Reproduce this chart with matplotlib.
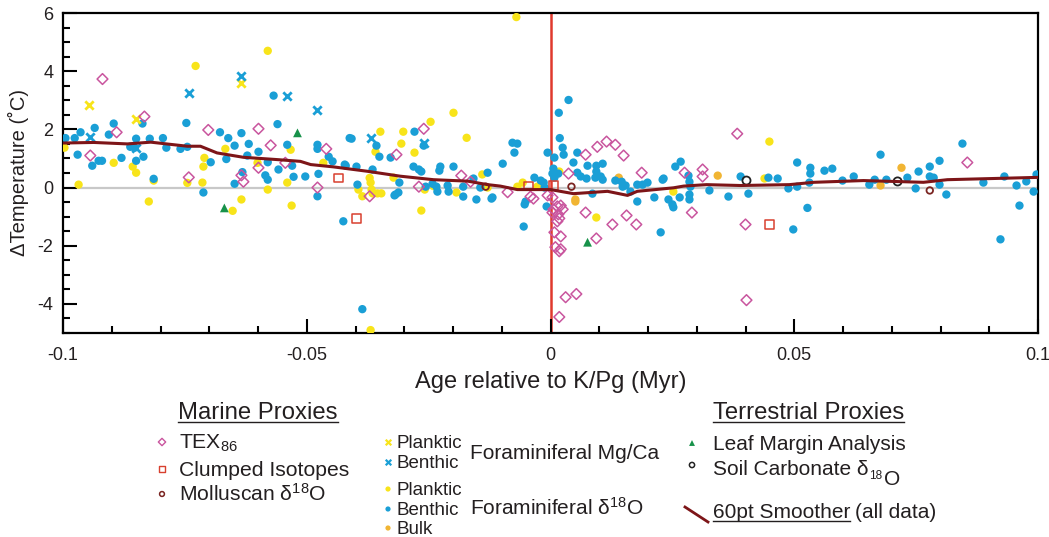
import matplotlib
matplotlib.use("Agg")
import matplotlib.pyplot as plt
from matplotlib.ticker import MultipleLocator, FixedLocator

plt.rcParams['font.family'] = ['Liberation Sans', 'DejaVu Sans']
plt.rcParams['axes.unicode_minus'] = False
plt.rcParams['mathtext.fontset'] = 'custom'
plt.rcParams['mathtext.rm'] = 'Liberation Sans'
plt.rcParams['mathtext.it'] = 'Liberation Sans:italic'

# ---- data (age in Myr relative to K/Pg, delta T in deg C) ----
tex_age = [-0.0919, -0.0944, -0.089, -0.0833, -0.0742, -0.0702, -0.0634, -0.063, -0.0599, -0.0599,
           -0.0574, -0.0544, -0.046, -0.0478, -0.0371, -0.0316, -0.026, -0.027, -0.0183, -0.0164,
           -0.0088, -0.0041, -0.0035, -0.0006, 0.0004, 0.0004, 0.0006, 0.0014, 0.0021, 0.0025,
           0.0016, 0.0018, 0.0014, 0.0008, 0.0021, 0.001, 0.0021, 0.0018, 0.0031, 0.0053,
           0.0018, 0.0037, 0.0072, 0.0096, 0.0115, 0.0133, 0.015, 0.0072, 0.0094, 0.0127,
           0.0156, 0.0176, 0.0187, 0.0275, 0.029, 0.0312, 0.0312, 0.0383, 0.040, 0.0402, 0.0855]
tex_dt = [3.73, 1.10, 1.90, 2.44, 0.35, 1.98, 0.42, 0.20, 2.02, 0.68,
          1.45, 0.85, 1.33, 0.00, -0.30, 1.13, 2.02, 0.03, 0.41, 0.20,
          -0.16, -0.31, -0.38, -0.27, -0.34, -0.86, -0.75, -0.65, -0.62, -0.75,
          -0.92, -1.06, -1.16, -1.54, -1.68, -2.05, -2.12, -2.19, -3.77, -3.66,
          -4.45, 0.48, 1.13, 1.40, 1.58, 1.47, 1.10, -0.86, -1.75, -1.27,
          -0.96, -1.27, 0.51, 0.51, -0.86, 0.62, 0.38, 1.85, -1.27, -3.87, 0.86]

clumped_age = [-0.0435, -0.0398, -0.0045, 0.0006, 0.0449]
clumped_dt = [0.33, -1.06, 0.05, 0.07, -1.27]

mollusc_age = [-0.0133, 0.0043, 0.0778]
mollusc_dt = [0.03, 0.03, -0.10]

mgca_plank_age = [-0.0946, -0.0851, -0.0634]
mgca_plank_dt = [2.84, 2.35, 3.58]

mgca_benth_age = [-0.0944, -0.085, -0.0742, -0.0634, -0.054, -0.0478, -0.0369, -0.026]
mgca_benth_dt = [1.75, 1.37, 3.25, 3.85, 3.13, 2.67, 1.70, 1.54]

plank_age = [-0.0997, -0.0968, -0.0896, -0.0857, -0.085, -0.0814, -0.0824, -0.0745, -0.0728, -0.071,
             -0.0712, -0.0714, -0.0667, -0.0652, -0.0634, -0.0601, -0.058, -0.058, -0.0533, -0.054,
             -0.0531, -0.0466, -0.0394, -0.0386, -0.0371, -0.0369, -0.0367, -0.0365, -0.0355, -0.0347,
             -0.0359, -0.0349, -0.0322, -0.0302, -0.0306, -0.0279, -0.0246, -0.0258, -0.0265, -0.0199,
             -0.0193, -0.0172, -0.014, -0.0129, -0.024, -0.007, -0.0057, -0.0068, -0.0027, 0.0018,
             0.0094, 0.0252, 0.0439, 0.0449, -0.0369]
plank_dt = [1.37, 0.10, 0.85, 0.72, 0.51, 0.24, -0.48, 0.16, 4.18, 1.02,
            0.72, 0.17, 1.33, -0.80, -0.41, 0.85, 4.70, -0.07, 1.30, 0.17,
            -0.62, 0.85, -0.07, -0.30, 0.33, 0.17, -0.07, -0.20, -0.20, -0.20,
            1.23, 1.92, 0.34, 1.92, 1.51, 1.20, 2.26, -0.07, -0.79, 2.57,
            -0.17, 1.71, 0.45, 0.00, 0.05, 5.86, 0.17, 0.03, 0.03, 0.55,
            -1.03, -0.14, 0.31, 1.58, -4.90]

benth_age = [-0.0995, -0.0976, -0.0964, -0.097, -0.094, -0.0935, -0.0927, -0.092, -0.0906, -0.0896,
             -0.088, -0.0837, -0.0862, -0.0853, -0.085, -0.0835, -0.085, -0.0822, -0.0814, -0.0795,
             -0.0788, -0.0759, -0.0747, -0.0745, -0.0697, -0.0712, -0.0678, -0.0661, -0.0665, -0.0648,
             -0.0648, -0.0634, -0.0632, -0.0619, -0.0622, -0.0599, -0.0568, -0.056, -0.0585, -0.058,
             -0.058, -0.0558, -0.054, -0.053, -0.0527, -0.0503, -0.0478, -0.0478, -0.0455, -0.0447,
             -0.0476, -0.042, -0.0412, -0.0478, -0.0425, -0.0422, -0.0408, -0.0398, -0.0396, -0.0365,
             -0.0357, -0.0351, -0.0328, -0.032, -0.031, -0.0281, -0.0279, -0.026, -0.027, -0.0265,
             -0.0256, -0.0242, -0.0234, -0.0232, -0.0228, -0.0226, -0.0211, -0.0209, -0.0199, -0.0179,
             -0.0179, -0.0158, -0.0152, -0.0129, -0.0144, -0.0119, -0.0098, -0.0078, -0.0068, -0.0074,
             -0.0053, -0.0051, -0.0055, -0.0033, -0.002, -0.0014, -0.0012, -0.0006, -0.0008, -0.0386,
             -0.0318, -0.0312, -0.0121,
             0.0037, 0.0017, 0.0019, 0.0025, 0.0027, 0.0008, 0.0055, 0.0047, 0.0076, 0.0094,
             0.0107, 0.0004, 0.0008, 0.0006, 0.0016, 0.0055, 0.0062, 0.0074, 0.0094, 0.0103,
             0.0107, 0.0092, 0.0133, 0.0146, 0.0148, 0.0154, 0.0164, 0.0178, 0.0189, 0.0199,
             0.023, 0.0232, 0.0256, 0.0267, 0.0283, 0.0285, 0.0287, 0.0285, 0.0285, 0.0213,
             0.0242, 0.025, 0.0252, 0.0265, 0.0178, 0.0226, 0.0086, 0.0326, 0.0365, 0.039,
             0.0406, 0.0447, 0.0466, 0.0488,
             0.0506, 0.0506, 0.0533, 0.0533, 0.0531, 0.0562, 0.0578, 0.0599, 0.0622, 0.0654,
             0.0665, 0.0677, 0.0689, 0.0732, 0.0755, 0.0778, 0.0798, 0.0778, 0.0786, 0.0798,
             0.0749, 0.0812, 0.0845, 0.0888, 0.0931, 0.0956, 0.0976, 0.0997, 0.0991, 0.0527,
             0.0498, 0.0962, 0.0923]
benth_dt = [1.70, 1.70, 1.90, 1.13, 0.75, 2.05, 0.92, 0.92, 1.82, 2.20,
            1.02, 2.20, 1.40, 1.37, 1.68, 1.06, 0.92, 1.68, 0.30, 1.70,
            1.37, 1.33, 2.22, 1.40, 0.87, -0.17, 1.90, 1.70, 0.98, 1.44,
            0.13, 1.87, 0.53, 1.50, 1.10, 1.23, 3.16, 2.18, 0.42, 0.27,
            0.87, 0.62, 1.47, 0.75, 0.37, 0.38, 1.47, 1.33, 1.06, 0.90,
            0.47, 0.75, 1.70, -0.30, -1.16, 0.79, 1.68, 0.72, 0.10, 0.62,
            1.44, 1.06, 1.03, -0.27, 0.17, 0.72, 1.92, 1.44, 0.62, 0.55,
            0.03, 0.13, 0.03, -0.14, 0.58, 0.72, 0.07, -0.14, 0.72, 0.03,
            -0.31, 0.31, -0.41, 0.51, 0.00, -0.34, 0.82, 1.54, 1.51, 1.20,
            -0.58, -0.48, -1.34, 0.34, 0.24, 0.17, 0.00, 1.20, -0.65, -4.18,
            -0.24, -0.17, -0.38,
            3.01, 2.57, 1.70, 1.37, 1.13, 1.03, 1.20, 0.86, 0.75, 0.75,
            0.82, 0.48, 0.34, 0.65, 0.48, 0.51, 0.38, 0.31, 0.55, 0.38,
            0.27, 0.34, 0.24, 0.20, 0.03, 0.07, -0.14, 0.10, 0.10, 0.17,
            0.27, 0.31, 0.72, 0.89, 0.41, 0.20, 0.03, -0.24, -0.41, -0.34,
            -0.41, -0.58, -0.68, -0.34, -0.48, -1.54, -0.21, -0.10, -0.31, 0.38,
            -0.21, 0.34, 0.31, -0.03,
            0.86, 0.03, 0.68, 0.48, 0.17, 0.58, 0.65, 0.24, 0.38, 0.10,
            0.27, 1.13, 0.27, 0.34, 0.55, 0.72, 0.92, 0.38, 0.34, 0.10,
            -0.03, -0.24, 1.51, 0.17, 0.38, 0.07, 0.21, 0.45, -0.14, -0.70,
            -1.44, -0.62, -1.78]

bulk_age = [0.0051, 0.0051, 0.014, 0.0343, 0.0677, 0.072]
bulk_dt = [-0.41, -0.48, 0.34, 0.41, 0.07, 0.68]

leaf_age = [-0.0669, -0.0519, 0.0076]
leaf_dt = [-0.70, 1.88, -1.88]

soil_age = [0.0402, 0.0712]
soil_dt = [0.24, 0.21]

smooth_age = [-0.1, -0.0937, -0.0868, -0.082, -0.0745, -0.0718, -0.0684, -0.063, -0.056, -0.0513,
              -0.0492, -0.0445, -0.0376, -0.0308, -0.024, -0.017, -0.0129, -0.0103, -0.0068, 0.0,
              0.0047, 0.0117, 0.0158, 0.0178, 0.0252, 0.0273, 0.032, 0.039, 0.049, 0.054,
              0.0642, 0.0765, 0.0814, 0.1]
smooth_dt = [1.53, 1.55, 1.50, 1.56, 1.42, 1.42, 1.19, 1.04, 0.96, 0.90,
             0.79, 0.71, 0.56, 0.39, 0.27, 0.22, 0.10, 0.05, -0.07, -0.07,
             -0.21, -0.13, -0.27, -0.13, -0.01, 0.05, 0.10, 0.07, 0.10, 0.18,
             0.24, 0.18, 0.27, 0.35]

x_ticks = [-0.1, -0.05, 0, 0.05, 0.1]
x_labels = ['-0.1', '-0.05', '0', '0.05', '0.1']
y_ticks = [-4, -2, 0, 2, 4, 6]

# ---- colours ----
blue = '#1a9fd6'
yellow = '#f8e41a'
orange = '#f1b533'
pink = '#c9559e'
red = '#d8402f'
brown = '#7a2421'
green = '#17924a'
smooth_col = '#7d1518'
txt = '#231f20'

W, H = 1049, 537
fig = plt.figure(figsize=(W / 100, H / 100), dpi=100)
ax = fig.add_axes([63 / W, 1 - 333 / H, (1038 - 63) / W, (333 - 13) / H])

ax.axhline(0, color='#c8c8c8', lw=1.6, zorder=1)
ax.axvline(0, color='#e0392d', lw=1.8, zorder=1.5)

ax.scatter(plank_age, plank_dt, s=36, c=yellow, edgecolors='none', zorder=3)
ax.scatter(bulk_age, bulk_dt, s=36, c=orange, edgecolors='none', zorder=3)
ax.scatter(benth_age, benth_dt, s=36, c=blue, edgecolors='none', zorder=3.1)
ax.scatter(mgca_plank_age, mgca_plank_dt, s=36, marker='x', c=yellow, linewidths=2, zorder=3.2)
ax.scatter(mgca_benth_age, mgca_benth_dt, s=36, marker='x', c=blue, linewidths=2, zorder=3.2)
ax.scatter(tex_age, tex_dt, s=30, marker='D', facecolors='none', edgecolors=pink, linewidths=1.1, zorder=3.3)
ax.scatter(clumped_age, clumped_dt, s=40, marker='s', facecolors='none', edgecolors=red, linewidths=1.1, zorder=3.3)
ax.scatter(mollusc_age, mollusc_dt, s=22, marker='o', facecolors='none', edgecolors=brown, linewidths=1.3, zorder=3.3)
ax.scatter(leaf_age, leaf_dt, s=40, marker='^', c=green, edgecolors='none', zorder=3.3)
ax.scatter(soil_age, soil_dt, s=34, marker='o', facecolors='none', edgecolors='#222222', linewidths=1.3, zorder=3.3)
ax.plot(smooth_age, smooth_dt, color=smooth_col, lw=2.2, zorder=4)

ax.set_xlim(-0.1, 0.1)
ax.set_ylim(-5, 6)
ax.xaxis.set_major_locator(FixedLocator(x_ticks))
ax.set_xticklabels(x_labels)
ax.xaxis.set_minor_locator(MultipleLocator(0.01))
ax.yaxis.set_major_locator(FixedLocator(y_ticks))
ax.yaxis.set_minor_locator(MultipleLocator(0.5))
ax.tick_params(which='both', direction='in', top=False, right=False, width=1.5, colors='black')
ax.tick_params(which='major', length=10, labelsize=13, labelcolor=txt)
ax.tick_params(axis='x', which='major', pad=10)
ax.tick_params(axis='y', which='major', pad=7)
ax.tick_params(which='minor', length=5)
for sp in ax.spines.values():
    sp.set_linewidth(1.6)
ax.set_xlabel('Age relative to K/Pg (Myr)', fontsize=17, color=txt, labelpad=5)
ax.set_ylabel('\u0394Temperature (\u02daC)', fontsize=14.5, color=txt, labelpad=6)

# ---- legend drawn in pixel space ----
lax = fig.add_axes([0, 0, 1, 1])
lax.set_xlim(0, W)
lax.set_ylim(H, 0)
lax.axis('off')
renderer = fig.canvas.get_renderer()


def put(x, y, s, size=15, **kw):
    return lax.text(x, y, s, fontsize=size, color=txt, va='baseline', ha='left', **kw)


def underline(t, y):
    bb = t.get_window_extent(renderer)
    lax.plot([bb.x0, bb.x1], [y, y], color=txt, lw=1.0)


h1 = put(178, 419, 'Marine Proxies', size=17.2)
underline(h1, 422)
h2 = put(713, 419, 'Terrestrial Proxies', size=17.2)
underline(h2, 422)

lax.scatter([162], [442], s=14, marker='D', facecolors='none', edgecolors=pink, linewidths=1)
put(179, 449, 'TEX$_{86}$', size=15.2)
lax.scatter([162], [469], s=16, marker='s', facecolors='none', edgecolors=red, linewidths=1)
put(179, 476, 'Clumped Isotopes', size=15.2)
lax.scatter([162], [494], s=12, marker='o', facecolors='none', edgecolors=brown, linewidths=1.1)
put(179, 501, 'Molluscan \u03b4$^{18}$O', size=15.2)

lax.scatter([388], [442], s=16, marker='x', c=yellow, linewidths=1.6)
put(397, 448, 'Planktic', size=13.5)
lax.scatter([388], [462], s=16, marker='x', c=blue, linewidths=1.6)
put(397, 468, 'Benthic', size=13.5)
put(470, 459, 'Foraminiferal Mg/Ca')

lax.scatter([388], [489], s=14, c=yellow, edgecolors='none')
put(397, 495, 'Planktic', size=13.5)
lax.scatter([388], [509], s=14, c=blue, edgecolors='none')
put(397, 515, 'Benthic', size=13.5)
lax.scatter([388], [528], s=14, c=orange, edgecolors='none')
put(397, 534, 'Bulk', size=13.5)
put(470, 515, 'Foraminiferal \u03b4$^{18}$O')

lax.scatter([692], [443], s=18, marker='^', c=green, edgecolors='none')
put(713, 450, 'Leaf Margin Analysis')
lax.scatter([692], [465], s=14, marker='o', facecolors='none', edgecolors='#222222', linewidths=1.1)
t1 = put(713, 475, 'Soil Carbonate \u03b4')
bb = t1.get_window_extent(renderer)
t2 = put(bb.x1 + 1, 479, '18', size=8.5)
bb2 = t2.get_window_extent(renderer)
put(bb2.x1 + 1, 485, 'O')

lax.plot([685, 708], [507, 522], color=smooth_col, lw=2)
t3 = put(713, 518, '60pt Smoother')
underline(t3, 521)
bb3 = t3.get_window_extent(renderer)
put(bb3.x1 + 5, 518, '(all data)')

fig.savefig('out.png', dpi=100)
